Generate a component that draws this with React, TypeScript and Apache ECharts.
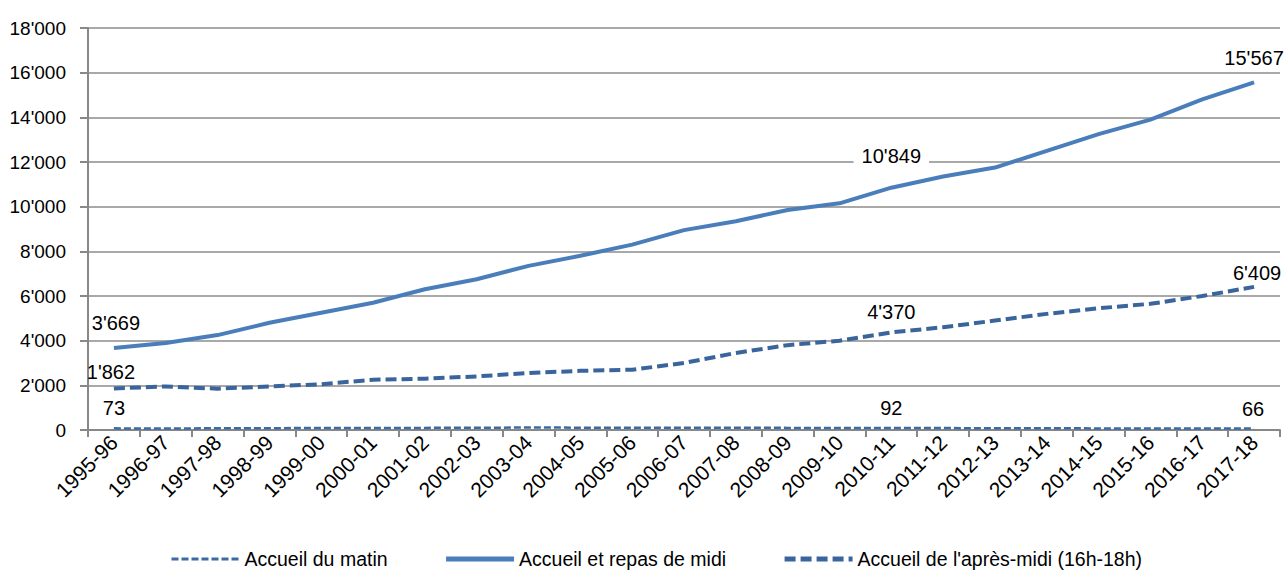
import React, { useEffect, useRef } from "react";
import * as echarts from "echarts";

const categories = [
  "1995-96", "1996-97", "1997-98", "1998-99", "1999-00", "2000-01", "2001-02", "2002-03",
  "2003-04", "2004-05", "2005-06", "2006-07", "2007-08", "2008-09", "2009-10", "2010-11",
  "2011-12", "2012-13", "2013-14", "2014-15", "2015-16", "2016-17", "2017-18",
];

const matin = [73, 70, 75, 80, 90, 95, 95, 100, 110, 105, 100, 100, 100, 95, 95, 92, 85, 80, 75, 72, 70, 68, 66];
const midi = [3669, 3900, 4250, 4800, 5250, 5700, 6300, 6750, 7350, 7800, 8300, 8950, 9350, 9850, 10150, 10849, 11350, 11750, 12500, 13250, 13900, 14800, 15567];
const apresMidi = [1862, 1950, 1850, 1950, 2050, 2250, 2300, 2400, 2550, 2650, 2700, 3000, 3450, 3800, 4000, 4370, 4600, 4900, 5200, 5450, 5650, 6000, 6409];

const seriesNames = ["Accueil du matin", "Accueil et repas de midi", "Accueil de l'après-midi (16h-18h)"];
const labelledIndices = [0, 15, 22];

const yTicks = { min: 0, max: 18000, interval: 2000 };

const FONT = "'Liberation Sans', Arial, sans-serif";

const fmt = (v: number) => {
  const s = Math.round(v).toString();
  return s.replace(/\B(?=(\d{3})+(?!\d))/g, "'");
};

type LabelCfg = { distance: number; offset: [number, number]; bg?: boolean };

function buildData(values: number[], cfg: Record<number, LabelCfg>) {
  return values.map((v, i) => {
    if (!labelledIndices.includes(i)) return v;
    const c = cfg[i];
    return {
      value: v,
      label: {
        show: true,
        position: "top",
        distance: c.distance,
        offset: c.offset,
        formatter: () => fmt(v),
        color: "#000",
        fontSize: 20,
        fontFamily: FONT,
        backgroundColor: c.bg ? "#fff" : "transparent",
        padding: c.bg ? [0, 8, 0, 8] : 0,
      },
    };
  });
}

export default function App() {
  const ref = useRef<HTMLDivElement>(null);

  useEffect(() => {
    document.body.style.margin = "0";
    if (!ref.current) return;
    const chart = echarts.init(ref.current, undefined, { renderer: "svg" });

    const matinLabels: Record<number, LabelCfg> = {
      0: { distance: 10, offset: [0, 0] },
      15: { distance: 10, offset: [0, 0] },
      22: { distance: 10, offset: [-1, 0] },
    };
    const midiLabels: Record<number, LabelCfg> = {
      0: { distance: 15, offset: [2, 0] },
      15: { distance: 22, offset: [0, 0], bg: true },
      22: { distance: 14, offset: [0, 0], bg: true },
    };
    const apresLabels: Record<number, LabelCfg> = {
      0: { distance: 6, offset: [-3, 0] },
      15: { distance: 10, offset: [0, 0] },
      22: { distance: 4, offset: [3, 0] },
    };

    const common = {
      type: "line",
      symbol: "circle",
      symbolSize: 0,
      showSymbol: true,
      showAllSymbol: true,
    };

    chart.setOption({
      animation: false,
      backgroundColor: "#fff",
      textStyle: { fontFamily: FONT },
      grid: { left: 88, right: 8, top: 28, bottom: 144, containLabel: false },
      legend: {
        left: 165,
        top: 544,
        itemWidth: 68,
        itemHeight: 14,
        itemGap: 56,
        itemStyle: { opacity: 0 },
        textStyle: { fontSize: 19.5, color: "#000", fontFamily: FONT },
        data: [
          { name: seriesNames[0], lineStyle: { width: 3 } },
          { name: seriesNames[1], lineStyle: { width: 5 } },
          { name: seriesNames[2], lineStyle: { width: 5 } },
        ],
      },
      xAxis: {
        type: "category",
        data: categories,
        boundaryGap: true,
        axisLine: { lineStyle: { color: "#888", width: 2 } },
        axisTick: { show: true, length: 7, lineStyle: { color: "#888", width: 2 } },
        axisLabel: {
          rotate: 45,
          interval: 0,
          fontSize: 21,
          color: "#000",
          fontFamily: FONT,
          margin: 9,
        },
        splitLine: { show: false },
      },
      yAxis: {
        type: "value",
        min: yTicks.min,
        max: yTicks.max,
        interval: yTicks.interval,
        axisLine: { show: true, lineStyle: { color: "#888", width: 2 } },
        axisTick: { show: true, length: 8, lineStyle: { color: "#888", width: 2 } },
        axisLabel: {
          formatter: (v: number) => fmt(v),
          fontSize: 19,
          color: "#000",
          fontFamily: FONT,
          margin: 22,
        },
        splitLine: { show: true, lineStyle: { color: "#8c8c8c", width: 1.5 } },
      },
      series: [
        {
          ...common,
          name: seriesNames[0],
          data: buildData(matin, matinLabels),
          lineStyle: { color: "#3d6aa3", width: 2.5, type: [7, 3] },
          itemStyle: { color: "#3d6aa3" },
          z: 3,
        },
        {
          ...common,
          name: seriesNames[1],
          data: buildData(midi, midiLabels),
          lineStyle: { color: "#4a7ebb", width: 4 },
          itemStyle: { color: "#4a7ebb" },
          z: 4,
        },
        {
          ...common,
          name: seriesNames[2],
          data: buildData(apresMidi, apresLabels),
          lineStyle: { color: "#3a659c", width: 4, type: [11, 5] },
          itemStyle: { color: "#3a659c" },
          z: 3,
        },
      ],
    });

    return () => chart.dispose();
  }, []);

  return <div ref={ref} style={{ width: 1288, height: 574 }} />;
}
